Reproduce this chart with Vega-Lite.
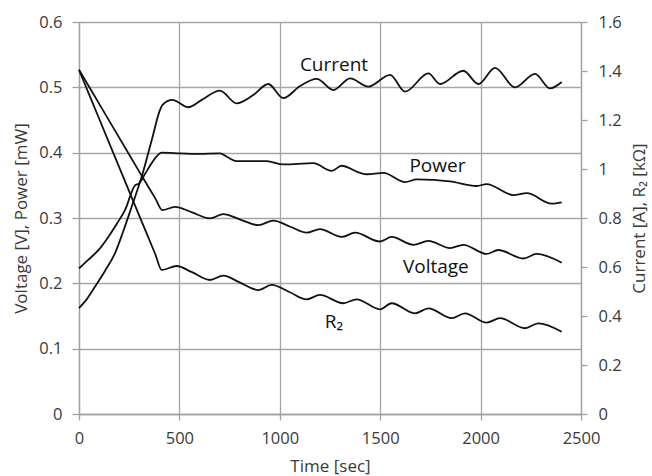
{
  "$schema": "https://vega.github.io/schema/vega-lite/v6.json",
  "width": 502,
  "height": 392,
  "autosize": "none",
  "padding": {"left": 79, "top": 22, "right": 71, "bottom": 62},
  "background": "white",
  "config": {
    "font": "Open Sans",
    "view": {"stroke": null},
    "axis": {
      "labelFont": "Open Sans",
      "labelFontSize": 16.5,
      "labelColor": "#3a3a3a",
      "titleFont": "Open Sans",
      "titleFontSize": 17,
      "titleFontWeight": "normal",
      "titleColor": "#3a3a3a",
      "domainColor": "#a0a0a0",
      "domainWidth": 1.3,
      "tickColor": "#a0a0a0",
      "tickWidth": 1.3,
      "gridColor": "#a6a6a6",
      "gridWidth": 1.3,
      "gridOpacity": 1
    }
  },
  "datasets": {
    "vp": [
      {"series": "Voltage", "t": 0, "v": 0.527},
      {"series": "Voltage", "t": 100, "v": 0.475},
      {"series": "Voltage", "t": 200, "v": 0.423},
      {"series": "Voltage", "t": 300, "v": 0.371},
      {"series": "Voltage", "t": 380, "v": 0.33},
      {"series": "Voltage", "t": 415, "v": 0.312},
      {"series": "Voltage", "t": 478, "v": 0.317},
      {"series": "Voltage", "t": 560, "v": 0.309},
      {"series": "Voltage", "t": 652, "v": 0.2995},
      {"series": "Voltage", "t": 719, "v": 0.306},
      {"series": "Voltage", "t": 800, "v": 0.298},
      {"series": "Voltage", "t": 893, "v": 0.289},
      {"series": "Voltage", "t": 968, "v": 0.296},
      {"series": "Voltage", "t": 1050, "v": 0.287},
      {"series": "Voltage", "t": 1134, "v": 0.2775},
      {"series": "Voltage", "t": 1200, "v": 0.283},
      {"series": "Voltage", "t": 1308, "v": 0.271},
      {"series": "Voltage", "t": 1375, "v": 0.2775},
      {"series": "Voltage", "t": 1499, "v": 0.264},
      {"series": "Voltage", "t": 1557, "v": 0.271},
      {"series": "Voltage", "t": 1665, "v": 0.259},
      {"series": "Voltage", "t": 1740, "v": 0.265},
      {"series": "Voltage", "t": 1848, "v": 0.254},
      {"series": "Voltage", "t": 1914, "v": 0.259},
      {"series": "Voltage", "t": 2030, "v": 0.245},
      {"series": "Voltage", "t": 2088, "v": 0.251},
      {"series": "Voltage", "t": 2213, "v": 0.238},
      {"series": "Voltage", "t": 2279, "v": 0.245},
      {"series": "Voltage", "t": 2404, "v": 0.2316},
      {"series": "Power", "t": 0, "v": 0.223},
      {"series": "Power", "t": 46, "v": 0.236},
      {"series": "Power", "t": 100, "v": 0.252},
      {"series": "Power", "t": 146, "v": 0.271},
      {"series": "Power", "t": 190, "v": 0.292},
      {"series": "Power", "t": 229, "v": 0.312},
      {"series": "Power", "t": 279, "v": 0.35},
      {"series": "Power", "t": 299, "v": 0.353},
      {"series": "Power", "t": 330, "v": 0.368},
      {"series": "Power", "t": 362, "v": 0.384},
      {"series": "Power", "t": 412, "v": 0.4},
      {"series": "Power", "t": 503, "v": 0.399},
      {"series": "Power", "t": 600, "v": 0.398},
      {"series": "Power", "t": 702, "v": 0.399},
      {"series": "Power", "t": 740, "v": 0.393},
      {"series": "Power", "t": 785, "v": 0.387},
      {"series": "Power", "t": 935, "v": 0.387},
      {"series": "Power", "t": 1017, "v": 0.382},
      {"series": "Power", "t": 1167, "v": 0.384},
      {"series": "Power", "t": 1258, "v": 0.372},
      {"series": "Power", "t": 1308, "v": 0.38},
      {"series": "Power", "t": 1400, "v": 0.369},
      {"series": "Power", "t": 1433, "v": 0.367},
      {"series": "Power", "t": 1516, "v": 0.369},
      {"series": "Power", "t": 1624, "v": 0.355},
      {"series": "Power", "t": 1682, "v": 0.359},
      {"series": "Power", "t": 1848, "v": 0.356},
      {"series": "Power", "t": 1981, "v": 0.349},
      {"series": "Power", "t": 2030, "v": 0.352},
      {"series": "Power", "t": 2163, "v": 0.335},
      {"series": "Power", "t": 2230, "v": 0.338},
      {"series": "Power", "t": 2354, "v": 0.322},
      {"series": "Power", "t": 2404, "v": 0.324}
    ],
    "ir": [
      {"series": "Current", "t": 0, "v": 0.432},
      {"series": "Current", "t": 40, "v": 0.47},
      {"series": "Current", "t": 80, "v": 0.52},
      {"series": "Current", "t": 130, "v": 0.585},
      {"series": "Current", "t": 179, "v": 0.656},
      {"series": "Current", "t": 220, "v": 0.745},
      {"series": "Current", "t": 262, "v": 0.845},
      {"series": "Current", "t": 312, "v": 0.968},
      {"series": "Current", "t": 362, "v": 1.117},
      {"series": "Current", "t": 403, "v": 1.24},
      {"series": "Current", "t": 415, "v": 1.261},
      {"series": "Current", "t": 465, "v": 1.282},
      {"series": "Current", "t": 544, "v": 1.252},
      {"series": "Current", "t": 611, "v": 1.282},
      {"series": "Current", "t": 702, "v": 1.32},
      {"series": "Current", "t": 785, "v": 1.268},
      {"series": "Current", "t": 868, "v": 1.302},
      {"series": "Current", "t": 943, "v": 1.347},
      {"series": "Current", "t": 1017, "v": 1.289},
      {"series": "Current", "t": 1101, "v": 1.339},
      {"series": "Current", "t": 1184, "v": 1.368},
      {"series": "Current", "t": 1267, "v": 1.322},
      {"series": "Current", "t": 1350, "v": 1.37},
      {"series": "Current", "t": 1441, "v": 1.336},
      {"series": "Current", "t": 1549, "v": 1.384},
      {"series": "Current", "t": 1624, "v": 1.316},
      {"series": "Current", "t": 1740, "v": 1.39},
      {"series": "Current", "t": 1798, "v": 1.347},
      {"series": "Current", "t": 1914, "v": 1.401},
      {"series": "Current", "t": 1989, "v": 1.347},
      {"series": "Current", "t": 2072, "v": 1.413},
      {"series": "Current", "t": 2171, "v": 1.333},
      {"series": "Current", "t": 2271, "v": 1.388},
      {"series": "Current", "t": 2346, "v": 1.329},
      {"series": "Current", "t": 2404, "v": 1.355},
      {"series": "R2", "t": 0, "v": 1.404},
      {"series": "R2", "t": 100, "v": 1.206},
      {"series": "R2", "t": 200, "v": 1.008},
      {"series": "R2", "t": 300, "v": 0.81},
      {"series": "R2", "t": 380, "v": 0.652},
      {"series": "R2", "t": 412, "v": 0.588},
      {"series": "R2", "t": 486, "v": 0.604},
      {"series": "R2", "t": 560, "v": 0.58},
      {"series": "R2", "t": 652, "v": 0.547},
      {"series": "R2", "t": 719, "v": 0.565},
      {"series": "R2", "t": 800, "v": 0.537},
      {"series": "R2", "t": 893, "v": 0.506},
      {"series": "R2", "t": 960, "v": 0.527},
      {"series": "R2", "t": 1050, "v": 0.497},
      {"series": "R2", "t": 1134, "v": 0.468},
      {"series": "R2", "t": 1200, "v": 0.486},
      {"series": "R2", "t": 1316, "v": 0.452},
      {"series": "R2", "t": 1383, "v": 0.468},
      {"series": "R2", "t": 1499, "v": 0.427},
      {"series": "R2", "t": 1557, "v": 0.452},
      {"series": "R2", "t": 1673, "v": 0.411},
      {"series": "R2", "t": 1740, "v": 0.431},
      {"series": "R2", "t": 1856, "v": 0.391},
      {"series": "R2", "t": 1922, "v": 0.411},
      {"series": "R2", "t": 2030, "v": 0.373},
      {"series": "R2", "t": 2097, "v": 0.391},
      {"series": "R2", "t": 2221, "v": 0.35},
      {"series": "R2", "t": 2287, "v": 0.37},
      {"series": "R2", "t": 2404, "v": 0.336}
    ],
    "labels": [
      {"label": "Current", "t": 1270, "v": 0.5255},
      {"label": "Power", "t": 1785, "v": 0.3709},
      {"label": "Voltage", "t": 1777, "v": 0.2154},
      {"label": "R₂", "t": 1270, "v": 0.1312}
    ]
  },
  "encoding": {
    "x": {
      "field": "t",
      "type": "quantitative",
      "scale": {"domain": [0, 2500], "nice": false, "zero": true},
      "axis": {
        "title": "Time [sec]",
        "values": [0, 500, 1000, 1500, 2000, 2500],
        "format": "d",
        "grid": true,
        "tickSize": 6,
        "labelPadding": 10,
        "titlePadding": 12,
        "labelFlush": false
      }
    }
  },
  "layer": [
    {
      "data": {"name": "vp"},
      "mark": {"type": "line", "interpolate": "monotone", "color": "#111111", "strokeWidth": 1.8},
      "encoding": {
        "y": {
          "field": "v",
          "type": "quantitative",
          "scale": {"domain": [0, 0.6], "nice": false},
          "axis": {
            "orient": "left",
            "title": "Voltage [V], Power [mW]",
            "values": [0, 0.1, 0.2, 0.3, 0.4, 0.5, 0.6],
            "format": "~g",
            "grid": true,
            "tickSize": 7,
            "labelPadding": 10,
            "titlePadding": 8
          }
        },
        "detail": {"field": "series"}
      }
    },
    {
      "data": {"name": "ir"},
      "mark": {"type": "line", "interpolate": "monotone", "color": "#111111", "strokeWidth": 1.8},
      "encoding": {
        "y": {
          "field": "v",
          "type": "quantitative",
          "scale": {"domain": [0, 1.6], "nice": false},
          "axis": {
            "orient": "right",
            "title": "Current [A], R₂ [kΩ]",
            "titleAngle": 270,
            "titleBaseline": "top",
            "values": [0, 0.2, 0.4, 0.6, 0.8, 1, 1.2, 1.4, 1.6],
            "format": "~g",
            "grid": false,
            "tickSize": 6,
            "labelPadding": 11,
            "titlePadding": 10
          }
        },
        "detail": {"field": "series"}
      }
    },
    {
      "data": {"name": "labels"},
      "mark": {"type": "text", "fontSize": 19, "color": "#111111", "align": "center", "baseline": "alphabetic", "font": "Open Sans"},
      "encoding": {
        "y": {"field": "v", "type": "quantitative", "scale": {"domain": [0, 0.6], "nice": false}, "axis": null},
        "text": {"field": "label"}
      }
    }
  ],
  "resolve": {"scale": {"y": "independent"}}
}
